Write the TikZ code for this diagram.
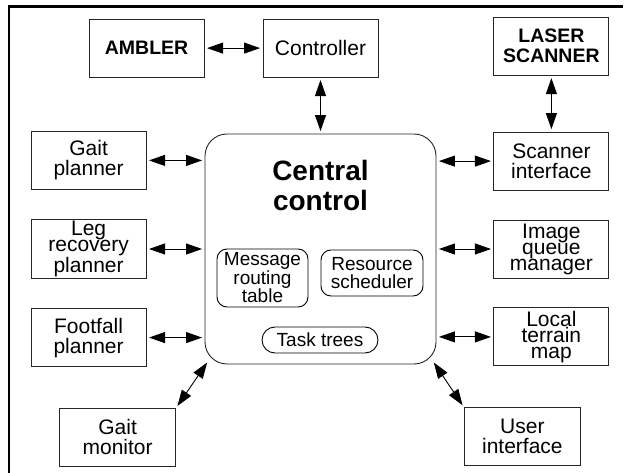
\documentclass[tikz,border=0pt]{standalone}
\usepackage{fontspec}
\setmainfont{Liberation Sans}
\usepackage{tikz}
\usetikzlibrary{arrows.meta,positioning}
\newcommand{\boxfont}{\fontsize{21}{20}\selectfont}
\newcommand{\tightfont}{\fontsize{21}{16}\selectfont}
\newcommand{\partfont}{\fontsize{19}{18.5}\selectfont}
\newcommand{\namefont}{\fontsize{19.5}{20}\selectfont\bfseries}

\begin{document}
\begin{tikzpicture}[
    x=1pt, y=-1pt,
    block/.style={rectangle, draw=black!85, line width=0.9pt, align=center, minimum width=115pt, minimum height=58pt, inner sep=2pt, font=\boxfont},
    tight/.style={block, font=\tightfont},
    device/.style={block, font=\namefont},
    hub/.style={rectangle, rounded corners=22pt, draw=black!85, line width=0.9pt, minimum width=231pt, minimum height=230pt},
    part/.style={rectangle, rounded corners=10pt, draw=black, line width=0.9pt, align=center, inner sep=1pt, font=\partfont},
    arrow/.style={{Triangle[length=16pt,width=11pt]}-{Triangle[length=16pt,width=11pt]}, line width=0.9pt, shorten <=2.5pt, shorten >=2.5pt}
]
\useasboundingbox (0,0) rectangle (627,473);
\draw[line width=2.6pt] (623,6.5) -- (9,6.5) -- (9,473);

\node[hub] (central) at (320.5,249) {};
\node[font=\fontsize{28}{30}\selectfont\bfseries, align=center] (title) at (320.5,185) {Central\\control};
\node[part, minimum width=91pt, minimum height=58pt] (msg) at (262.5,278) {Message\\routing\\table};
\node[part, minimum width=102pt, minimum height=46pt] (res) at (372,273) {Resource\\scheduler};
\node[part, rounded corners=13pt, minimum width=116pt, minimum height=26pt] (task) at (320,340) {Task trees};

\node[block, above=56pt of central] (controller) {Controller};
\node[device, left=58pt of controller] (ambler) {AMBLER};
\node[tight, left=58pt of central] (legrec) {Leg\\recovery\\planner};
\node[block, above=29pt of legrec] (gaitplan) {Gait\\planner};
\node[block, below=29pt of legrec] (footfall) {Footfall\\planner};
\node[tight, right=57pt of central] (imgqueue) {Image\\queue\\manager};
\node[block, above=29pt of imgqueue] (scanif) {Scanner\\interface};
\node[tight, below=29pt of imgqueue] (terrain) {Local\\terrain\\map};
\node[device, above=56pt of scanif] (laser) {LASER\\SCANNER};
\node[block, minimum width=116pt, below=41pt of footfall, xshift=29pt] (gaitmon) {Gait\\monitor};
\node[block, minimum width=116pt, below=41pt of terrain, xshift=-29pt] (userif) {User\\interface};

\draw[arrow] (ambler) -- (controller);
\draw[arrow] (controller) -- (central);
\draw[arrow] (laser) -- (scanif);
\draw[arrow] (gaitplan.east) -- (gaitplan.east -| central.west);
\draw[arrow] (legrec) -- (central);
\draw[arrow] (footfall.east) -- (footfall.east -| central.west);
\draw[arrow] (central.east |- scanif.west) -- (scanif.west);
\draw[arrow] (central) -- (imgqueue);
\draw[arrow] (central.east |- terrain.west) -- (terrain.west);
\draw[arrow] (gaitmon.north east) -- ([shift={(4,-4)}]central.south west);
\draw[arrow] (userif.north west) -- ([shift={(-4,-4)}]central.south east);
\end{tikzpicture}
\end{document}
